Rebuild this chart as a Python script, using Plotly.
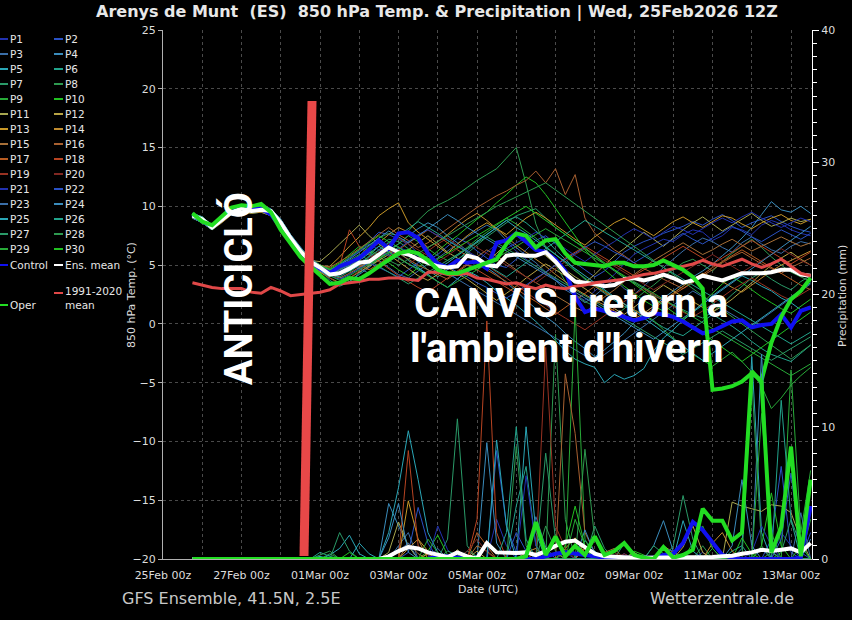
import plotly.graph_objects as go
import pandas as pd

# ---------------- data ----------------
TIMES = pd.date_range("2026-02-25 18:00", periods=64, freq="6h")

MEMBER_NAMES = ["P%d" % k for k in range(1, 31)]
MEMBER_COLORS = [
    "#2232b0", "#2a52c4", "#3a6ea8", "#3a8cbc", "#2aa6b6", "#22a48c", "#2a9a68", "#2e9a50", "#28aa38", "#22c022",
    "#a8a850", "#b8a444", "#c89828", "#c08c30", "#a87038", "#a86030", "#b85c22", "#b84422", "#983222", "#802822",
    "#2232b0", "#2a52c4", "#3a6ea8", "#3a8cbc", "#2aa6b6", "#22a48c", "#2a9a68", "#2e9a50", "#28aa38", "#22c022",
]

# 850 hPa temperature (degC), 6-hourly from 25Feb 18Z
T_P01 = [9.0,8.7,8.1,8.8,9.5,9.7,9.5,9.6,9.3,8.3, 7.0,6.0,5.2,4.6,4.0,4.5,5.2,5.8,5.1,6.0, 7.0,6.5,6.2,5.8,5.3,5.0,4.4,3.8,4.5,5.3, 6.1,6.8,7.0,6.2,5.5,4.9,4.3,3.8,3.1,2.5, 2.0,2.8,3.5,4.2,5.1,5.9,6.4,6.8,7.2,7.0, 7.6,8.0,7.8,7.1,7.5,8.2,8.0,7.6,8.4,8.8, 8.5,8.0,7.7,7.5]
T_P02 = [9.3,9.0,8.3,8.9,9.6,10.0,9.8,9.9,9.7,8.8, 7.5,6.4,5.6,5.0,4.6,5.0,5.6,6.3,7.0,7.8, 7.6,7.2,6.8,6.0,5.4,5.9,6.6,7.3,6.9,6.2, 5.6,5.0,4.8,5.5,6.3,7.1,7.5,6.8,6.0,5.2, 4.6,4.0,4.5,5.3,6.1,6.6,7.0,7.3,7.7,8.0, 8.3,8.7,8.4,8.9,9.3,8.8,8.2,8.6,8.9,9.2, 8.7,8.3,8.0,7.8]
T_P03 = [9.1,8.8,8.2,8.7,9.4,9.7,9.5,9.6,9.4,8.5, 7.1,6.0,5.1,4.5,4.1,4.4,5.0,5.5,6.1,5.4, 4.8,4.2,3.9,4.5,5.1,5.6,6.2,6.8,7.4,7.9, 8.4,8.0,7.1,6.5,5.8,5.2,4.4,3.7,2.9,2.4, 1.8,2.4,3.1,3.8,3.0,2.5,3.2,4.0,4.8,5.5, 6.2,6.8,7.3,7.0,6.5,6.1,6.9,7.4,6.8,6.3, 6.0,6.6,7.0,6.8]
T_P04 = [9.4,9.1,8.4,9.0,9.8,10.1,9.9,10.0,9.8,8.9, 7.6,6.5,5.5,4.9,4.3,4.0,3.6,4.2,4.8,5.5, 6.3,6.8,7.5,8.1,8.6,8.2,7.5,6.9,6.2,5.4, 4.8,4.2,3.5,2.8,2.0,1.3,0.6,0.0,-0.8,-1.5, -2.1,-2.8,-2.2,-1.5,-0.8,0.1,0.9,1.5,2.2,2.8, 3.4,4.0,4.5,5.1,5.8,6.5,7.3,8.2,9.3,10.4, 9.7,9.5,10.0,9.4]
T_P05 = [9.2,8.8,8.1,8.9,9.6,9.9,9.7,9.8,9.5,8.6, 7.2,6.1,5.3,4.7,4.4,4.9,5.3,4.8,5.2,5.9, 6.6,6.2,5.4,4.8,4.2,3.6,3.1,3.8,4.5,4.1, 3.5,2.8,2.2,1.6,0.9,0.2,-0.6,-1.4,-2.3,-3.0, -3.4,-3.7,-5.0,-4.3,-4.7,-4.4,-3.8,-2.3,-1.2,-0.5, 0.3,1.0,1.6,2.4,3.0,3.6,4.1,3.7,3.2,2.8, 2.2,1.8,1.2,1.5]
T_P06 = [9.0,8.6,8.0,8.7,9.4,9.6,9.4,9.5,9.2,8.2, 6.9,5.9,5.1,4.6,3.7,3.2,3.6,4.3,5.0,5.6, 6.0,6.5,6.0,5.3,4.6,4.0,4.6,5.4,6.2,7.0, 7.6,8.2,8.8,9.1,8.6,7.9,7.2,6.3,5.5,4.6, 3.8,3.2,2.6,2.0,1.5,1.2,0.7,0.2,-0.3,-0.7, -1.0,-0.4,0.2,0.8,0.3,-0.2,-0.8,-1.5,-2.1,-2.6, -2.9,-3.2,-2.5,-1.8]
T_P07 = [9.3,9.0,8.3,9.0,9.7,10.0,9.8,9.9,9.6,8.7, 7.4,6.3,5.4,4.9,4.5,4.8,4.4,5.0,5.8,6.6, 7.2,7.0,6.4,5.9,5.6,5.1,4.9,5.5,6.0,6.7, 7.4,8.0,8.6,9.2,9.5,9.8,9.0,8.2,7.6,7.0, 6.5,5.8,5.1,4.5,3.9,3.5,3.0,2.4,2.0,1.6, 1.2,0.8,0.5,1.0,1.7,2.5,3.2,3.9,4.4,3.8, 3.3,2.9,3.6,4.1]
T_P08 = [9.1,8.7,8.1,8.8,9.5,9.8,9.6,9.7,9.4,8.4, 7.1,6.0,5.2,4.5,4.1,4.6,5.2,5.8,6.6,7.3, 7.7,7.5,7.9,8.8,9.6,10.1,10.5,11.0,11.6,12.2, 12.7,13.2,14.1,15.0,11.9,8.5,6.5,5.0,3.6,2.5, 1.9,1.5,1.0,0.6,1.3,2.0,2.7,3.3,4.0,4.6, 5.2,5.5,5.0,4.5,5.3,6.0,6.6,7.2,6.5,5.7, 5.0,4.4,4.0,3.6]
T_P09 = [9.2,8.9,8.2,8.8,9.5,9.8,9.6,9.7,9.5,8.6, 7.3,6.2,5.3,4.7,4.3,4.6,5.1,5.4,5.0,5.5, 6.1,6.8,7.5,7.0,6.4,5.8,5.4,5.9,6.5,7.2, 7.8,8.4,9.0,8.5,7.9,7.3,6.6,5.9,5.2,4.5, 3.9,3.3,2.8,2.2,1.7,1.2,0.8,0.3,-0.5,-1.2, -1.9,-2.6,-3.1,-3.6,-3.0,-2.4,-3.2,-4.1,-5.3,-7.2, -6.3,-5.2,-4.4,-3.7]
T_P10 = [9.4,9.1,8.4,9.1,9.8,10.1,9.9,10.0,9.7,8.8, 7.5,6.4,5.5,5.0,4.7,5.2,5.9,6.6,6.2,5.7, 5.2,4.6,4.1,4.8,5.5,6.2,6.9,7.5,8.2,8.9, 9.5,10.3,11.0,11.8,12.5,12.0,11.0,9.8,8.6,7.4, 6.3,5.4,4.6,3.9,3.2,2.6,2.0,1.5,1.1,0.7, 0.4,1.0,1.8,2.6,3.4,4.0,3.5,2.9,2.3,1.8, 1.3,0.9,1.5,2.1]
T_P11 = [9.2,8.8,8.2,8.9,9.6,9.9,9.7,9.8,9.5,8.5, 7.2,6.2,5.4,5.3,6.0,6.8,7.6,8.4,7.5,6.8, 6.2,5.8,6.3,6.9,7.5,6.8,6.1,5.6,5.0,4.6, 5.3,6.0,6.8,7.5,7.0,6.4,5.8,5.1,4.6,4.0, 3.5,4.2,5.0,5.8,6.4,7.1,7.8,7.2,6.6,7.3, 8.0,8.6,9.1,8.5,7.9,8.4,8.9,9.4,8.8,8.3, 8.6,9.0,8.7,8.9]
T_P12 = [9.1,8.7,8.0,8.7,9.4,9.7,9.5,9.6,9.3,8.4, 7.0,5.9,5.0,4.4,3.9,3.5,3.9,4.4,4.9,5.4, 5.9,5.3,4.7,4.1,3.7,4.2,4.8,4.3,3.8,3.2, 2.6,2.0,2.6,3.2,3.9,4.5,5.1,4.6,4.1,3.5, 3.0,2.4,1.8,1.3,0.8,1.4,2.1,2.7,3.3,2.8, 2.3,1.9,1.4,1.0,1.5,2.1,2.8,3.5,4.3,5.0, 5.6,6.1,5.5,5.0]
T_P13 = [9.3,9.0,8.3,9.0,9.7,10.0,9.8,9.9,9.6,8.7, 7.4,6.3,5.4,4.9,4.9,5.7,6.6,7.4,8.2,9.2, 9.8,10.3,8.6,7.8,7.2,6.6,6.0,6.8,7.5,8.1, 8.6,8.1,7.6,8.3,9.0,9.5,9.0,8.4,7.8,7.2, 6.7,7.4,8.0,8.6,9.0,8.5,8.0,7.5,8.1,8.7, 9.1,8.6,8.2,8.7,9.2,9.0,8.5,8.1,8.6,9.0, 9.3,8.8,8.5,8.9]
T_P14 = [9.0,8.6,8.0,8.6,9.3,9.6,9.4,9.5,9.2,8.3, 6.9,5.8,5.0,4.4,4.0,4.4,4.9,5.5,6.2,6.9, 7.6,8.2,7.8,7.2,6.5,7.0,7.6,8.3,8.9,9.4, 8.8,8.1,7.4,6.7,6.1,5.5,4.9,4.2,3.6,3.0, 2.5,2.0,1.6,1.1,0.7,0.4,0.9,1.5,2.0,2.6, 3.2,3.8,4.3,4.0,3.6,3.1,2.7,3.3,3.9,4.5, 5.0,5.4,5.8,6.2]
T_P15 = [9.2,8.9,8.2,8.9,9.6,9.9,9.7,9.8,9.6,8.6, 7.3,6.2,5.3,4.7,4.2,3.9,4.3,4.8,5.3,5.9, 6.5,6.0,5.5,5.0,4.6,4.2,3.8,4.4,5.0,5.7, 6.3,5.8,5.2,4.6,4.0,3.5,3.0,2.4,1.9,1.4, 1.0,1.6,2.3,2.9,3.6,4.2,4.8,5.4,5.9,6.4, 6.9,6.4,5.9,6.3,6.8,7.2,6.7,6.2,6.6,7.0, 7.4,7.0,6.6,6.9]
T_P16 = [9.3,9.0,8.3,9.0,9.7,10.0,9.8,9.9,9.7,8.8, 7.5,6.4,5.5,5.0,4.8,5.3,5.8,6.4,7.0,7.6, 8.2,7.6,7.1,6.5,6.9,7.5,8.1,8.7,9.3,9.9, 10.4,10.9,11.3,11.8,12.2,13.0,12.0,13.2,11.0,12.7, 9.0,7.7,7.0,6.3,5.8,5.2,4.7,4.3,3.8,3.4, 3.0,3.5,4.1,4.6,5.2,5.7,6.1,5.6,5.1,4.7, 4.3,4.8,5.2,5.6]
T_P17 = [9.1,8.8,8.1,8.8,9.5,9.8,9.6,9.7,9.4,8.5, 7.1,6.1,5.2,4.6,4.2,4.7,5.3,5.0,4.6,5.1, 5.7,6.3,6.9,7.4,8.0,7.5,6.9,6.3,5.8,5.2, 4.6,4.1,3.6,3.0,2.4,1.9,1.3,0.8,1.4,2.0, 2.6,3.2,2.7,2.2,1.7,1.2,0.7,1.3,1.9,2.5, 3.0,3.6,4.2,4.8,5.3,5.8,6.3,5.8,5.3,4.8, 4.3,3.8,3.3,2.9]
T_P18 = [9.2,8.8,8.2,8.8,9.5,9.9,9.7,9.8,9.5,8.5, 7.2,6.2,5.3,4.8,4.4,4.9,8.0,6.6,5.9,5.3, 4.7,4.1,3.6,3.1,2.7,3.3,3.9,4.5,5.1,4.6, 4.1,3.6,3.1,2.6,3.2,3.8,4.4,5.0,5.6,6.1, 6.6,6.1,5.6,5.1,4.6,4.1,4.6,5.1,5.6,6.1, 6.6,6.1,5.6,5.1,5.6,6.1,6.6,7.1,6.6,6.1, 5.6,5.1,5.6,6.1]
T_P19 = [9.0,8.7,8.1,8.7,9.4,9.7,9.5,9.6,9.3,8.4, 7.0,6.0,5.1,4.5,3.9,3.4,3.9,4.5,5.1,5.7, 6.3,5.7,5.1,5.6,6.2,6.8,7.3,6.7,6.1,5.6, 5.0,4.4,3.9,3.3,2.7,2.1,1.6,1.0,0.5,0.0, -0.5,0.1,0.7,1.3,1.9,2.5,3.0,2.5,2.0,1.5, 1.0,0.6,1.1,1.7,2.3,2.9,3.4,3.9,3.4,2.9, 2.4,2.0,2.5,3.0]
T_P20 = [9.3,8.9,8.3,8.9,9.6,10.0,9.8,9.9,9.6,8.7, 7.4,6.3,5.4,4.9,4.5,4.2,4.6,5.1,5.6,6.2, 6.8,7.3,6.8,6.3,5.8,5.3,5.8,6.4,7.0,6.5, 6.0,5.5,5.0,4.5,4.0,3.5,4.1,4.7,5.3,5.9, 6.4,5.9,5.4,4.9,4.4,3.9,3.4,2.9,3.4,3.9, 4.4,4.9,5.4,5.9,5.4,4.9,4.4,4.9,5.4,5.9, 6.4,5.9,5.4,5.0]
T_P21 = [9.1,8.8,8.2,8.8,9.5,9.8,9.6,9.7,9.4,8.5, 7.2,6.1,5.2,4.7,4.5,5.1,5.6,6.2,6.8,6.3, 5.8,6.4,7.0,7.6,8.0,7.5,7.1,6.6,6.2,5.7, 5.2,5.8,6.4,6.9,7.3,7.8,7.3,6.9,6.4,5.8, 5.3,5.9,6.5,7.0,7.6,8.1,7.7,7.2,7.8,8.3, 8.0,7.6,8.1,8.6,9.0,8.6,9.1,9.5,9.0,8.6, 8.2,8.6,9.0,8.7]
T_P22 = [9.3,9.0,8.3,9.0,9.7,9.9,9.7,9.8,9.6,8.7, 7.4,6.3,5.4,4.8,4.1,3.8,4.2,4.7,5.2,4.8, 4.4,4.0,4.6,5.2,5.8,5.3,4.9,4.4,4.0,3.5, 3.1,2.6,2.2,2.7,3.3,3.9,4.4,5.0,5.5,6.0, 6.5,7.0,6.6,6.1,5.7,5.2,5.7,6.2,6.7,7.2, 7.7,7.2,6.8,7.3,7.8,8.3,7.9,7.4,7.0,7.5, 8.0,7.6,7.2,7.7]
T_P23 = [9.2,8.9,8.2,8.8,9.5,9.8,9.6,9.7,9.5,8.6, 7.3,6.2,5.3,4.8,4.3,4.6,5.0,4.7,4.3,4.8, 5.3,5.8,6.3,5.8,5.3,4.8,4.3,3.8,3.3,2.8, 2.3,1.8,1.3,0.8,0.3,-0.2,-0.7,-1.2,-1.7,-2.2, -2.7,-3.2,-2.6,-2.0,-1.4,-0.8,-0.2,0.4,1.0,1.6, 2.2,2.8,2.3,1.8,1.3,0.8,0.3,-0.2,0.4,1.0, 1.6,2.2,2.8,3.4]
T_P24 = [9.4,9.1,8.4,9.1,9.8,10.1,9.9,10.0,9.8,8.9, 7.6,6.5,5.6,5.0,4.6,5.0,5.5,6.1,6.7,7.3, 7.9,7.4,6.9,7.5,8.1,8.7,9.3,8.8,8.2,7.7, 7.2,6.7,6.2,5.7,5.2,4.7,4.2,3.7,3.2,2.7, 2.2,1.7,1.2,0.7,0.2,-0.3,-0.8,-1.3,-0.7,-0.1, 0.5,1.1,1.7,2.3,2.9,3.5,4.1,4.7,5.3,5.9, 6.5,7.1,7.7,8.3]
T_P25 = [9.0,8.6,8.0,8.7,9.4,9.7,9.5,9.6,9.3,8.3, 7.0,5.9,5.1,4.5,4.0,4.4,4.9,5.4,6.0,6.6, 6.1,5.6,5.1,4.7,4.2,4.7,5.2,5.8,6.4,7.0, 7.6,8.2,8.8,8.2,7.7,7.1,6.5,5.9,5.3,4.7, 4.1,3.5,2.9,2.3,1.7,1.1,0.5,-0.1,-0.7,-1.3, -1.9,-2.5,-3.1,-2.5,-1.9,-1.3,-0.7,-0.1,0.5,1.1, 1.7,2.3,2.9,3.5]
T_P26 = [9.2,8.8,8.2,8.9,9.6,9.9,9.7,9.8,9.5,8.6, 7.2,6.2,5.3,4.7,4.2,4.0,4.5,5.1,5.7,6.3, 6.9,7.5,8.1,8.7,8.2,7.7,7.1,6.6,6.1,5.5, 5.0,4.5,4.0,4.6,5.2,5.8,6.4,7.0,7.6,8.2, 8.8,8.3,7.8,7.3,6.8,6.3,5.8,5.3,4.8,4.3, 3.8,3.3,2.8,2.3,1.8,1.3,0.8,0.3,-0.2,-0.7, -1.2,-1.7,-1.2,-0.7]
T_P27 = [9.1,8.7,8.1,8.8,9.5,9.8,9.6,9.7,9.4,8.5, 7.1,6.0,5.2,4.6,4.2,4.8,5.4,5.9,5.4,4.9, 4.4,3.9,3.4,3.9,4.4,4.9,5.4,5.9,6.4,6.9, 7.4,6.9,6.4,5.9,5.4,4.9,4.4,3.9,3.4,2.9, 2.4,1.9,1.4,0.9,0.4,-0.1,-0.6,-1.1,-1.6,-2.1, -2.6,-2.1,-1.6,-1.1,-0.6,-1.1,-1.6,-2.1,-2.6,-3.1, -2.6,-2.1,-1.6,-1.1]
T_P28 = [9.3,8.9,8.3,8.9,9.6,10.0,9.8,9.9,9.6,8.7, 7.4,6.3,5.4,4.9,4.3,4.7,5.2,5.8,6.3,5.9, 5.4,5.0,5.5,6.0,6.5,7.0,7.5,8.0,8.5,9.0, 9.5,10.0,10.4,10.8,11.2,11.6,12.0,11.4,10.8,10.2, 9.6,9.0,8.4,7.8,7.2,6.6,6.0,5.4,4.8,4.2, 3.6,3.0,2.4,1.8,1.2,0.6,0.0,-0.6,-1.2,-1.8, -2.4,-3.0,-2.4,-1.8]
T_P29 = [9.2,8.9,8.2,8.9,9.6,9.9,9.7,9.8,9.5,8.6, 7.3,6.2,5.3,4.7,4.1,3.7,4.1,4.6,5.1,5.6, 6.1,5.6,5.1,4.6,4.1,3.6,3.1,3.6,4.1,4.6, 5.1,5.6,6.1,6.6,7.1,7.6,8.1,7.6,7.1,6.6, 6.1,5.6,5.1,4.6,4.1,3.6,3.1,2.6,2.1,1.6, 1.1,0.6,0.1,-0.4,-0.9,-1.4,-1.9,-2.4,-2.9,-3.4, -3.9,-4.4,-3.9,-3.4]
T_P30 = [9.4,9.0,8.4,9.0,9.7,10.1,9.9,10.0,9.7,8.8, 7.5,6.4,5.5,5.0,4.6,5.1,5.7,6.3,6.9,7.5, 7.0,6.5,6.0,5.5,5.0,5.5,6.0,6.5,7.0,7.5, 8.0,8.5,9.0,9.5,10.0,9.4,8.8,8.2,7.6,7.0, 6.4,5.8,5.2,4.6,4.0,3.4,2.8,2.2,1.6,1.0, 0.4,-0.2,-0.8,-1.4,-2.0,-2.6,-3.2,-2.6,-2.0,-1.4, -0.8,-0.2,0.4,1.0]

T_CONTROL = [9.3,8.7,8.3,9.0,9.7,9.9,9.8,9.8,9.3,8.2, 7.0,6.0,5.3,4.7,4.3,4.9,5.2,5.6,6.3,7.1, 6.4,7.7,7.8,7.3,6.0,5.1,4.8,5.4,5.2,5.3, 4.7,6.9,7.1,7.7,7.0,6.3,6.1,5.5,4.5,2.3, 1.0,1.3,1.1,0.9,0.6,0.3,0.5,0.9,0.8,0.6, 0.2,-0.3,-0.8,-0.6,-0.2,0.2,0.3,-0.3,-0.1,0.0, 0.8,-0.3,1.1,1.4]
T_MEAN = [9.2,8.9,8.2,8.8,9.5,9.8,9.6,9.7,9.6,8.6, 7.3,6.2,5.3,4.8,4.2,4.3,4.7,5.2,5.3,5.9, 6.5,6.1,5.9,5.5,5.2,4.9,4.8,4.9,5.8,5.6, 5.0,4.9,5.8,5.9,5.8,5.8,6.1,5.3,4.3,3.6, 3.5,3.4,3.2,3.3,3.8,3.9,3.7,3.9,4.2,3.9, 3.5,3.7,4.1,3.9,3.7,4.0,4.3,4.3,4.3,4.4, 4.6,4.6,4.2,4.1]
T_CLIM = [3.5,3.3,3.1,3.0,3.0,3.0,2.7,2.6,3.1,2.8, 2.4,2.5,2.6,2.7,2.9,3.4,3.5,3.6,3.8,3.8, 3.9,3.9,3.8,3.7,4.4,4.4,4.2,4.2,4.3,3.9, 3.8,3.6,3.4,3.5,3.2,3.0,3.3,3.1,3.0,3.2, 3.3,3.5,3.6,3.7,3.8,4.0,4.2,4.3,4.5,4.7, 4.9,5.1,5.4,5.1,4.9,5.2,5.5,5.1,4.8,5.1, 5.5,4.9,4.3,4.1]
T_OPER = [9.4,8.7,8.4,9.1,9.9,10.1,10.0,10.2,9.5,8.0, 6.8,5.7,4.9,4.1,3.4,3.5,3.9,3.8,4.3,4.9, 5.5,6.0,6.2,6.0,5.4,4.6,4.3,4.3,4.6,4.9, 5.2,5.5,6.8,7.7,7.5,6.5,7.1,7.2,6.0,5.2, 5.1,5.0,4.9,5.2,5.2,4.9,4.9,5.0,5.4,5.0, 4.6,4.0,3.0,-5.6,-5.5,-5.3,-4.9,-4.2,-4.8,-1.6, 0.6,2.1,2.8,3.9]

# 6-hourly precipitation (mm)
R_P01 = [0,0,0,0,0,0,0,0,0,0,0,0,0,0,0,0, 0,0,0,0,0,0,0,0,0,0,0,0,0,0,0,3.0, 1.0,0,0,0,0,0,0.5,0,0.8,0,0,0,0,0,0,0, 0,0,0,0,0.5,0,0,0,0,0,0,0,2.0,1.0,0,0]
R_P02 = [0,0,0,0,0,0,0,0,0,0,0,0,0,0,0,0, 0,0,0,0,0,0,0.5,3.9,1.2,0,0,0,0,0,0,8.2, 2.5,0.5,0,0,0,0,0,0,0,0,0,0,0.4,0,0,0, 0,0,0,0,0,0,0,0,0,0,0,1.5,7.0,0.5,0,2.0]
R_P03 = [0,0,0,0,0,0,0,0,0,0,0,0,0,0,0,0, 0,0,0,0,0,1.0,2.0,0,0,0.8,0,0,0,0,0,0, 0,0,0,0,0.6,1.5,0,0,0,0,0,0,0,0,0,0, 0,0,0,0,0,0,0,0,0,0,0.8,0,0,0,0,0]
R_P04 = [0,0,0,0,0,0,0,0,0,0,0,0,0,0,0,0, 0,0,0,0,4.2,2.5,1.0,0,0,0,0,0,0,0,8.8,1.2, 0,0,0,0,0,0,0,0,0,0,0,0,0,0,0,1.0, 2.9,0.6,0,0,0,0,0,0,0,0,15.5,0.6,0,0,0,1.5]
R_P05 = [0,0,0,0,0,0,0,0,0,0,0,0,0,0,0.3,0.8, 1.8,0.4,0,0,2.0,5.4,9.7,6.0,2.0,0.5,0,0,0,0,0,0, 0,0,10.0,2.0,0,0,0,0,1.4,0.6,0,0,0,0,0,0, 0,0,0,0,0,0,0,0,0.8,15.3,2.0,0,0,0,0,0]
R_P06 = [0,0,0,0,0,0,0,0,0,0,0,0,0,0.5,0.2,0, 0,0,0,0,0,0,0,0,0,0,0,0,0.6,0.2,0,0, 0,4.0,7.0,1.0,0,0,0,0,0,0,0,0,1.2,0.5,0,0, 0,0,0,0,0,0,0,0.6,1.0,0,0,0,0,0,0,0]
R_P07 = [0,0,0,0,0,0,0,0,0,0,0,0,0,0,0,2.0, 0.6,0,0,0,0,0,0,0,0,0,1.5,10.6,1.0,0,0,0, 0,0,0,0,0,0,0,0,0,2.5,0.8,0,0,0,0,0, 0,1.0,4.8,1.5,0,0,0,0,0,0,0,0,0.5,3.0,1.0,0]
R_P08 = [0,0,0,0,0,0,0,0,0,0,0,0,0,0.3,0.6,0, 0,0,0,0,0,0,0,0,0,0,0,0,0,0,0,0, 0,8.5,1.0,0,0,17.0,3.0,0,0,0,0,0,0,0,0,0, 0,0,0,0,1.0,0,0,0,0,13.5,1.0,0,0,0,0,0]
R_P09 = [0,0,0,0,0,0,0,0,0,0,0,0,0,0,0,0, 0,0,0,0,0,0,0,0,0,0,0,0,0,0,0,0, 0,0,0,0,0,0,0,19.0,1.5,0,0,0,0,0,0,0, 0,0,0,0,0,0.8,0,0,0,0,0,0,0,14.3,2.0,6.7]
R_P10 = [0,0,0,0,0,0,0,0,0,0,0,0,0,0,0,0, 0,0,0,0,0,0,0,0,0.6,1.8,0.3,0,0,0,0,0, 0,0,0,0,0,0,0,0,0,0,0,0,0,0.6,0.3,0, 0,0,0,0,0,0,0,0,0,0,1.0,5.0,1.0,0,0,0]
R_P11 = [0,0,0,0,0,0,0,0,0,0,0,0,0,0,0,0, 0,0,0,0,0.5,2.8,1.0,0,0,0,0,0.7,0,0,0,0, 0,0,0,0,0,0,0,0,0,0,0,0,0,0.5,0,0, 0,0,0,0,0,0,0,4.3,4.0,3.8,3.6,4.1,4.0,3.5,1.5,0]
R_P12 = [0,0,0,0,0,0,0,0,0,0,0,0,0,0,0,0, 0,0,0,0,0,0,0,0,0.4,0,0,0,0,0.6,0,0, 0,0,0,0,0,0.5,0,0,0.8,0,0,0,0,0,0,0, 0,0,0.9,2.5,0.5,0,0,0,0,0,0,0,0,0,0,0]
R_P13 = [0,0,0,0,0,0,0,0,0,0,0,0,0,0,0,0, 0,0,0,0,0,0,4.4,1.5,0.6,0,0,0,0,0,0,0, 0,0,0,0,0,0,0.8,1.6,0.4,0,0,0,0,0,0,0, 1.0,0.5,0,0,0,0,0,0,0,0,0,0,0,0,0,0]
R_P14 = [0,0,0,0,0,0,0,0,0,0,0,0,0,0,0,0, 0,0,0,0,0,0,0.8,1.5,0,0,0,0,0,0,0,0, 0,0,0.5,0.8,0,0,0,0,0,0,0,0,0,0,0,0, 0,0,0,0,0,1.2,2.0,0.6,0,0,0,0,0,0,0,0]
R_P15 = [0,0,0,0,0,0,0,0,0,0,0,0,0,0,0,0, 0,0,0,0,0,0,1.2,0.4,0,0,0,0,0,1.0,0.6,0, 0,0,0,0,0,0,0,0,0,0,0.5,0.8,0,0,0,0, 0,0,0,0,0,0,0,0,0,0,0,0,0,0,0,0]
R_P16 = [0,0,0,0,0,0,0,0,0,0,0,0,0,0,0,0, 0,0,0,0,0,0,0,0,0,0,0,0,0,0,0,0, 0,0,0,0,0,0,14.0,9.5,2.0,0.5,0,0,0,0,0,0, 0,0,0,0,0,0,0,0,0,0,0,0,0,0,0,0]
R_P17 = [0,0,0,0,0,0,0,0,0,0,0,0,0,0,0,0, 0,0,0,0,0,0,0,0,0,0,0,0,0,2.0,1.0,0, 0,0,0,0,0,0,0,0,0.8,0.5,0,0,0,0,0,0, 0,0,0,0,0,0,0,0,0,0,0,0,0,0,0,0]
R_P18 = [0,0,0,0,0,0,0,0,0,0,0,0,0,0,0,0, 0,0,0,0,0,0,8.2,1.0,0.3,0,0,0,0,3.0,18.0,2.0, 0,0,0,0.5,0,0,0,0,0,0,0,0,0,0,0,0, 0,0,0,0,0,0,0,0,0,0,0,0,0,0,0,0]
R_P19 = [0,0,0,0,0,0,0,0,0,0,0,0,0,0,0,0, 0,0,0,0,0,0,0,0,0,0,0,0,0,0,0,0, 0,0,0,0,16.0,2.5,0.8,0,0,0,0,0.5,0,0,0,0, 0,0,0,0,0,0,0,0,0,0,0,0,0,0,0,0]
R_P20 = [0,0,0,0,0,0,0,0,0,0,0,0,0,0,0,0, 0,0,0,0,0,0,0,0,0,0,0,0,0.6,1.5,0.5,0, 0,0,0,0,0,0,0,0,0,0,0,0,0.4,0,0,0, 0,0,0,0,0,0,0,0,0,0,0,0,0,0,0,0]
R_P21 = [0,0,0,0,0,0,0,0,0,0,0,0,0,0,0,0, 0,0,0,0,0,0,0,0,0,2.5,0.7,0,0,0,0,0, 0,0,6.3,1.0,0,0,0,0,0,0,0,0,0,0,0,0, 0,0,0,0,0,0,0,0,0,0.5,2.5,1.0,0,0,0,0]
R_P22 = [0,0,0,0,0,0,0,0,0,0,0,0,0,0,0,0, 0,0,0,0,0,0,0,0,0,0,0,0,0,0,0,0, 0,2.0,0.6,0,0,0,0,0,0,0,0,0,0,0,0,0, 0.8,0.6,0,0,0,0,0,0,0,0,0,0,1.5,6.5,0.5,0]
R_P23 = [0,0,0,0,0,0,0,0,0,0,0,0,0,0,0,0, 0,0,0,0,0,0.6,1.2,0,0,0,0,0,0,0,0,0, 0,0,0,3.2,0.9,0,0,0,0,0,0,0,0,0,0,0, 0,0,0,0,0,0,0,0,0,0,0,0,0,0,3.5,0]
R_P24 = [0,0,0,0,0,0,0,0,0,0,0,0,0,0,0,0, 0,0,0,0,1.6,4.2,0.5,0,0,0,0,0,0,0,0,0, 0,0,0,0,0,0,0,0,2.2,0.4,0,0,0,0,0,0, 0,0,0,0,0,0,0,1.0,6.0,1.0,0,0,0,0,0,0]
R_P25 = [0,0,0,0,0,0,0,0,0,0,0,0,0,0.2,0,0, 0,1.2,0.4,0,0,0,0,0,0,0,0,0,0,0,0,9.0, 2.5,0,0,0,0,0,0,0,0,0,0,0,0,0,0,0, 0,0,2.9,0.6,0,0,0,0,0,0,0,0,0,0,0,0]
R_P26 = [0,0,0,0,0,0,0,0,0,0,0,0,0,0,0,0, 0,0,0,0,0,0,0,0,0,0,0,0,0,0,0,0, 2.0,10.0,1.5,0,0,0,0,0,0,0,0,0,0,0,0,0, 0,0,0,0,0,0,0,0,0,0,0,0,12.0,3.0,0,0]
R_P27 = [0,0,0,0,0,0,0,0,0,0,0,0,0,0,0,0, 0,0,0,0,0,0,0,0,0,0,0.6,0.3,0,0,0,0, 0,0,0,0,8.0,1.5,0,0,0,0,0,0,0,0,0,1.0, 0.4,0,0,0,0,0,0,0,0,0,0,0,0,0,0,0]
R_P28 = [0,0,0,0,0,0,0,0,0,0,0,0,0,0,0.4,0, 0,0,0,0,0,0,0,0,0,0,0,0,0,0,0,0, 0,0,0,0,2.5,0.6,0,0,8.3,1.5,0,0,0,0,0,0, 0,0,0,0,0,0,0,0,0,0,0,0.5,0,0,0,0]
R_P29 = [0,0,0,0,0,0,0,0,0,0,0,0,0,0,0,0, 0,0,0,0,0,0,0,0,1.5,0.5,0,0,0,0,0,0, 0,0,0,0,0,0,0,3.0,1.0,0,0,0,0,0,0,0, 0,0,0,1.2,2.5,0.8,0,0,0,0,11.0,2.0,0,0,0,3.0]
R_P30 = [0,0,0,0,0,0,0,0,0,0,0,0,0,0,0,0, 0.5,0,0,0,0,0,0,0,0,0,0,0,0,0,0,0, 0,0,0,0,0,0,1.0,4.0,1.0,0,0,0,0,0,0,0, 0,0,0,0,0,0,0,0,1.6,0.4,0,0,0,0,1.0,0]

R_CONTROL = [0,0,0,0,0,0,0,0,0,0,0,0,0,0,0,0, 0,0,0,0,0,0,0,0,0,0.2,0.2,0.1,0,0,0,0, 0,0,0,0,0.2,0.4,0.5,0.4,0.3,0.2,0.1,0.1,0.1,0.1,0.1,0.1, 0.3,0.4,1.2,2.8,2.2,1.2,0.3,0.1,0,0,0,0,0,0,0.1,4.0]
R_MEAN = [0,0,0,0,0,0,0,0,0,0,0,0,0,0,0,0, 0,0,0,0,0.2,0.6,0.9,0.8,0.5,0.35,0.15,0.5,0.2,0.05,1.2,0.5, 0.45,0.45,0.5,0.3,0.6,1.0,1.3,1.4,0.9,0.4,0.2,0.15,0.1,0.1,0.1,0.1, 0.15,0.15,0.15,0.15,0.15,0.15,0.2,0.25,0.4,0.5,0.7,0.6,0.7,0.8,0.5,1.2]
R_OPER = [0,0,0,0,0,0,0,0,0,0,0,0,0,0,0,0, 0,0,0,0,0,0,0,0,0,0,0,0,0,0,0,0, 0,0,0.2,2.8,0.3,1.7,0.2,1.0,0.3,1.7,0.3,0.6,1.2,0.3,0.1,0, 0.9,0.1,0.3,0.7,3.8,2.9,2.9,1.4,2.0,14.2,13.4,0.5,2.4,8.5,0.2,6.0]

T_MEMBERS = [T_P01, T_P02, T_P03, T_P04, T_P05, T_P06, T_P07, T_P08, T_P09, T_P10,
             T_P11, T_P12, T_P13, T_P14, T_P15, T_P16, T_P17, T_P18, T_P19, T_P20,
             T_P21, T_P22, T_P23, T_P24, T_P25, T_P26, T_P27, T_P28, T_P29, T_P30]
R_MEMBERS = [R_P01, R_P02, R_P03, R_P04, R_P05, R_P06, R_P07, R_P08, R_P09, R_P10,
             R_P11, R_P12, R_P13, R_P14, R_P15, R_P16, R_P17, R_P18, R_P19, R_P20,
             R_P21, R_P22, R_P23, R_P24, R_P25, R_P26, R_P27, R_P28, R_P29, R_P30]

X_TICKS = pd.date_range("2026-02-25", "2026-03-13", freq="D")
X_LABELS = [d.strftime("%d%b 00z") if k % 2 == 0 else "" for k, d in enumerate(X_TICKS)]

TITLE = "Arenys de Munt  (ES)  850 hPa Temp. & Precipitation | Wed, 25Feb2026 12Z"

COL_CONTROL = "#1010f0"
COL_MEAN = "#ffffff"
COL_OPER = "#22dd22"
COL_CLIM = "#e04848"

# ---------------- figure ----------------
L, R, T, B, W, H = 163, 40, 30, 61, 852, 620
PW, PH = W - L - R, H - T - B


def px(x):
    return (x - L) / PW


def py(y):
    return (H - B - y) / PH


fig = go.Figure()


def add(x, y, color, width, axis):
    n = min(len(x), len(y))
    fig.add_trace(go.Scatter(x=list(x[:n]), y=y[:n], mode="lines", yaxis=axis,
                             line=dict(color=color, width=width), hoverinfo="skip",
                             showlegend=False))


for t, c in zip(T_MEMBERS, MEMBER_COLORS):
    add(TIMES, t, c, 1, "y")
for r, c in zip(R_MEMBERS, MEMBER_COLORS):
    add(TIMES, r, c, 1, "y2")

add(TIMES, T_CONTROL, COL_CONTROL, 4, "y")
add(TIMES, R_CONTROL, COL_CONTROL, 4, "y2")
add(TIMES, T_MEAN, COL_MEAN, 4, "y")
add(TIMES, R_MEAN, COL_MEAN, 4, "y2")
add(TIMES, T_CLIM, COL_CLIM, 3, "y")
add(TIMES, T_OPER, COL_OPER, 4, "y")
add(TIMES, R_OPER, COL_OPER, 4, "y2")

GRID = "#4a4a4a"
fig.update_layout(
    width=W, height=H,
    margin=dict(l=L, r=R, t=T, b=B, pad=0),
    paper_bgcolor="black", plot_bgcolor="black",
    showlegend=False,
    font=dict(family="DejaVu Sans", color="#dddddd", size=11),
    xaxis=dict(range=["2026-02-25 00:00", "2026-03-13 12:50"],
               tickmode="array", tickvals=list(X_TICKS), ticktext=X_LABELS,
               showgrid=True, gridcolor=GRID, griddash="3px,3px", gridwidth=1,
               showline=True, linecolor="#b0b0b0", linewidth=1,
               ticks="", zeroline=False, tickfont=dict(size=11, color="#dddddd"),
               ticklabelstandoff=6),
    yaxis=dict(range=[-20, 25], tickmode="linear", tick0=-20, dtick=5,
               showgrid=True, gridcolor=GRID, griddash="3px,3px", gridwidth=1,
               showline=True, linecolor="#b0b0b0", linewidth=1,
               ticks="outside", ticklen=4, tickcolor="#b0b0b0",
               zeroline=False, tickfont=dict(size=11, color="#dddddd")),
    yaxis2=dict(range=[0, 40], overlaying="y", side="right", tickmode="linear",
                tick0=0, dtick=10, showgrid=False,
                showline=True, linecolor="#ffffff", linewidth=1,
                ticks="outside", ticklen=6, tickcolor="#ffffff",
                minor=dict(dtick=1, ticks="outside", ticklen=4, tickcolor="#ffffff"),
                zeroline=False, tickfont=dict(size=11, color="#dddddd")),
)

ann = []
ann.append(dict(text="<b>%s</b>" % TITLE, x=px(437), y=py(12), xref="paper", yref="paper",
                showarrow=False, xanchor="center", yanchor="middle",
                font=dict(family="DejaVu Sans", size=16, color="#e8e8e8")))
ann.append(dict(text="850 hPa Temp. (°C)", x=px(131), y=py(295), xref="paper", yref="paper",
                showarrow=False, textangle=-90, xanchor="center", yanchor="middle",
                font=dict(size=11, color="#dddddd")))
ann.append(dict(text="Precipitation (mm)", x=px(842), y=py(296), xref="paper", yref="paper",
                showarrow=False, textangle=-90, xanchor="center", yanchor="middle",
                font=dict(size=11, color="#dddddd")))
ann.append(dict(text="Date (UTC)", x=px(488), y=py(589), xref="paper", yref="paper",
                showarrow=False, xanchor="center", yanchor="middle",
                font=dict(size=11, color="#dddddd")))
ann.append(dict(text="GFS Ensemble, 41.5N, 2.5E", x=px(120), y=py(598), xref="paper", yref="paper",
                showarrow=False, xanchor="left", yanchor="middle",
                font=dict(size=16, color="#c8c8c8")))
ann.append(dict(text="Wetterzentrale.de", x=px(796), y=py(598), xref="paper", yref="paper",
                showarrow=False, xanchor="right", yanchor="middle",
                font=dict(size=16, color="#c8c8c8")))

# manual two-column legend
shapes = []
LEG_FONT = dict(family="DejaVu Sans", size=10.5, color="#e6e6e6")


def leg(label, color, x0, y, width=2):
    shapes.append(dict(type="line", xref="paper", yref="paper", x0=px(x0), x1=px(x0 + 9),
                       y0=py(y), y1=py(y), line=dict(color=color, width=width)))
    ann.append(dict(text=label, x=px(x0 + 9), y=py(y), xref="paper", yref="paper",
                    showarrow=False, xanchor="left", yanchor="middle", align="left",
                    font=LEG_FONT))


for k in range(30):
    col = k % 2
    row = k // 2
    leg(MEMBER_NAMES[k], MEMBER_COLORS[k], -1 if col == 0 else 54, 39 + 15 * row)
leg("Control", COL_CONTROL, -1, 265)
leg("Ens. mean", COL_MEAN, 54, 265)
leg("1991-2020<br>mean", COL_CLIM, 54, 298)
leg("Oper", COL_OPER, -1, 305)
# shift the clim label line to its first text row
shapes[-2]["y0"] = py(293)
shapes[-2]["y1"] = py(293)

# hand-drawn overlay
shapes.append(dict(type="line", xref="paper", yref="paper", x0=px(312), y0=py(101),
                   x1=px(304), y1=py(556), line=dict(color="#e84848", width=9)))
ann.append(dict(text="<b>ANTICICLÓ</b>", x=px(238), y=py(289), xref="paper", yref="paper",
                showarrow=False, textangle=-90, xanchor="center", yanchor="middle",
                font=dict(family="Roboto", size=38, color="#ffffff")))
ann.append(dict(text="<b>CANVIS i retorn a</b>", x=px(571), y=py(303), xref="paper", yref="paper",
                showarrow=False, xanchor="center", yanchor="middle",
                font=dict(family="Roboto", size=40, color="#ffffff")))
ann.append(dict(text="<b>l'ambient d'hivern</b>", x=px(566), y=py(348), xref="paper", yref="paper",
                showarrow=False, xanchor="center", yanchor="middle",
                font=dict(family="Roboto", size=40, color="#ffffff")))

fig.update_layout(annotations=ann, shapes=shapes)
fig.write_html("out.html")
